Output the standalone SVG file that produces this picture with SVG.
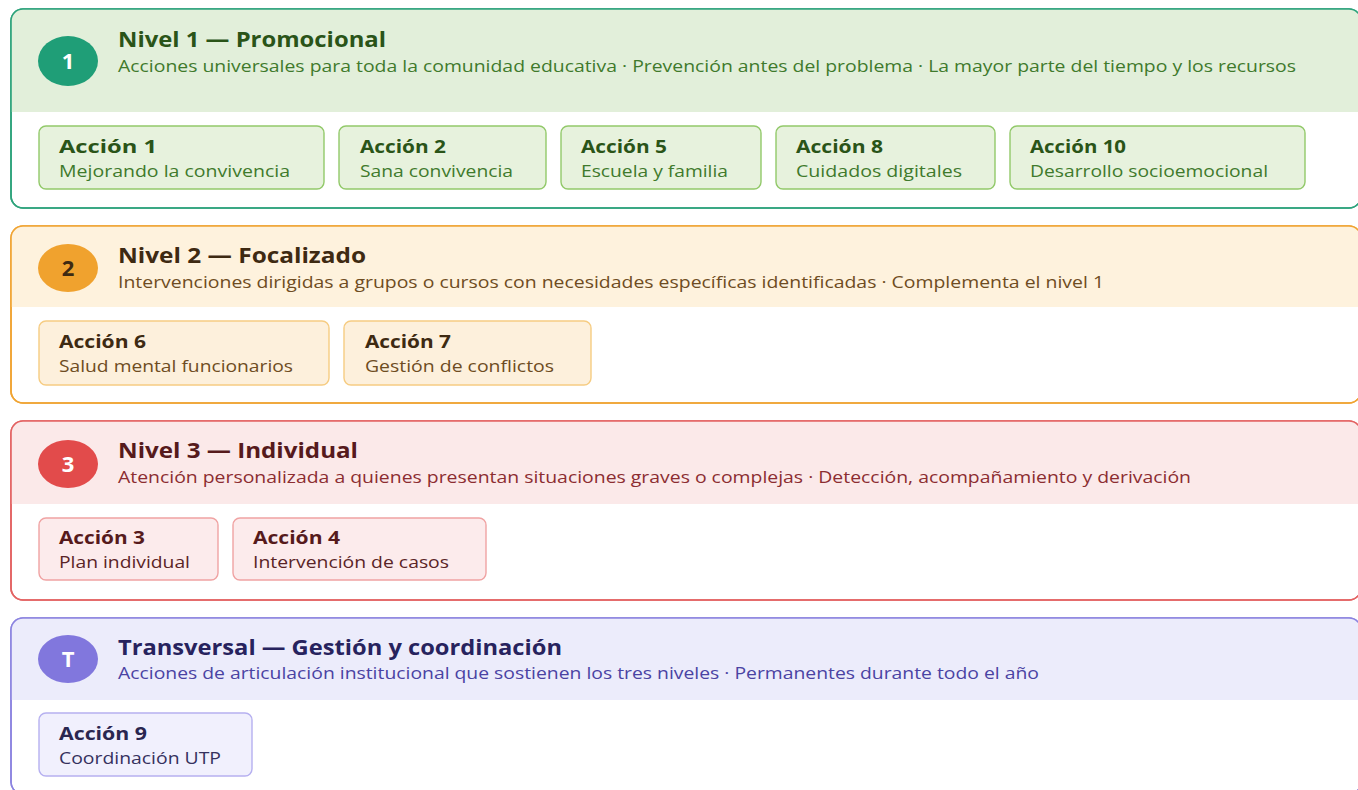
<svg xmlns="http://www.w3.org/2000/svg" width="1358" height="790" viewBox="0 0 1358 790">
<style>
text{font-family:"Open Sans","Noto Sans","Liberation Sans",sans-serif}
.t{font-size:20.5px;font-weight:700}
.s{font-size:16.5px}
.ct{font-size:18px;font-weight:700}
.cs{font-size:17px}
.n{font-size:22px;font-weight:700;text-anchor:middle}
.g .panel{fill:#fff;stroke:#2ea37c;stroke-width:1.6}
.g .head{fill:#e2efda}
.g .card{fill:#e7f2dd;stroke:#92c96a;stroke-width:1.4}
.g .t,.g .ct{fill:#2a5418}
.g .s,.g .cs{fill:#3f7a2c}
.o .panel{fill:#fff;stroke:#f0a433;stroke-width:1.6}
.o .head{fill:#fef2dd}
.o .card{fill:#fdf0dc;stroke:#f6cc82;stroke-width:1.4}
.o .t,.o .ct{fill:#3e2a12}
.o .s,.o .cs{fill:#6e4c22}
.r .panel{fill:#fff;stroke:#e36363;stroke-width:1.6}
.r .head{fill:#fbe9e9}
.r .card{fill:#fcebec;stroke:#f0a3a3;stroke-width:1.4}
.r .t,.r .ct{fill:#561a1c}
.r .s{fill:#8c2d31}
.r .cs{fill:#5a2426}
.p .panel{fill:#fff;stroke:#8c84e0;stroke-width:1.6}
.p .head{fill:#ececfb}
.p .card{fill:#f1f0fd;stroke:#b6b0f0;stroke-width:1.4}
.p .t{fill:#27235e}
.p .ct{fill:#2a2650}
.p .s{fill:#4a43a3}
.p .cs{fill:#35315e}
</style>
<rect width="1358" height="790" fill="#fff"/>
<defs>
<clipPath id="c1"><rect x="11" y="9" width="1350" height="199" rx="12"/></clipPath>
<clipPath id="c2"><rect x="11" y="226" width="1350" height="177" rx="12"/></clipPath>
<clipPath id="c3"><rect x="11" y="421" width="1350" height="179" rx="12"/></clipPath>
<clipPath id="c4"><rect x="11" y="618" width="1350" height="176" rx="12"/></clipPath>
</defs>

<g id="nivel1" class="g">
<rect class="panel" x="11" y="9" width="1350" height="199" rx="12"/>
<rect class="head" x="11" y="9" width="1350" height="103" clip-path="url(#c1)"/>
<rect x="11" y="9" width="1350" height="199" rx="12" fill="none" stroke="#2ea37c" stroke-width="1.6"/>
<ellipse cx="68" cy="61" rx="30" ry="25" fill="#1f9e77"/>
<text class="n" x="68" y="69" fill="#fff">1</text>
<text class="t" x="118" y="47" textLength="268" lengthAdjust="spacingAndGlyphs">Nivel 1 — Promocional</text>
<text class="s" x="118" y="72" textLength="1178" lengthAdjust="spacingAndGlyphs">Acciones universales para toda la comunidad educativa · Prevención antes del problema · La mayor parte del tiempo y los recursos</text>
<g id="a1"><rect class="card" x="39" y="126" width="285" height="63" rx="7"/><text class="ct" x="59" y="153" textLength="98" lengthAdjust="spacingAndGlyphs">Acción 1</text><text class="cs" x="59" y="177" textLength="231" lengthAdjust="spacingAndGlyphs">Mejorando la convivencia</text></g>
<g id="a2"><rect class="card" x="339" y="126" width="207" height="63" rx="7"/><text class="ct" x="360" y="153" textLength="86" lengthAdjust="spacingAndGlyphs">Acción 2</text><text class="cs" x="360" y="177" textLength="153" lengthAdjust="spacingAndGlyphs">Sana convivencia</text></g>
<g id="a5"><rect class="card" x="561" y="126" width="200" height="63" rx="7"/><text class="ct" x="581" y="153" textLength="86" lengthAdjust="spacingAndGlyphs">Acción 5</text><text class="cs" x="581" y="177" textLength="147" lengthAdjust="spacingAndGlyphs">Escuela y familia</text></g>
<g id="a8"><rect class="card" x="776" y="126" width="219" height="63" rx="7"/><text class="ct" x="796" y="153" textLength="87" lengthAdjust="spacingAndGlyphs">Acción 8</text><text class="cs" x="796" y="177" textLength="166" lengthAdjust="spacingAndGlyphs">Cuidados digitales</text></g>
<g id="a10"><rect class="card" x="1010" y="126" width="295" height="63" rx="7"/><text class="ct" x="1030" y="153" textLength="96" lengthAdjust="spacingAndGlyphs">Acción 10</text><text class="cs" x="1030" y="177" textLength="238" lengthAdjust="spacingAndGlyphs">Desarrollo socioemocional</text></g>
</g>

<g id="nivel2" class="o">
<rect class="panel" x="11" y="226" width="1350" height="177" rx="12"/>
<rect class="head" x="11" y="226" width="1350" height="81" clip-path="url(#c2)"/>
<rect x="11" y="226" width="1350" height="177" rx="12" fill="none" stroke="#f0a433" stroke-width="1.6"/>
<ellipse cx="68" cy="268" rx="30" ry="24" fill="#f0a22e"/>
<text class="n" x="68" y="276" fill="#3e2a12">2</text>
<text class="t" x="118" y="263" textLength="248" lengthAdjust="spacingAndGlyphs">Nivel 2 — Focalizado</text>
<text class="s" x="118" y="288" textLength="986" lengthAdjust="spacingAndGlyphs">Intervenciones dirigidas a grupos o cursos con necesidades específicas identificadas · Complementa el nivel 1</text>
<g id="a6"><rect class="card" x="39" y="321" width="290" height="64" rx="7"/><text class="ct" x="59" y="348" textLength="87" lengthAdjust="spacingAndGlyphs">Acción 6</text><text class="cs" x="59" y="372" textLength="234" lengthAdjust="spacingAndGlyphs">Salud mental funcionarios</text></g>
<g id="a7"><rect class="card" x="344" y="321" width="247" height="64" rx="7"/><text class="ct" x="365" y="348" textLength="86" lengthAdjust="spacingAndGlyphs">Acción 7</text><text class="cs" x="365" y="372" textLength="189" lengthAdjust="spacingAndGlyphs">Gestión de conflictos</text></g>
</g>

<g id="nivel3" class="r">
<rect class="panel" x="11" y="421" width="1350" height="179" rx="12"/>
<rect class="head" x="11" y="421" width="1350" height="83" clip-path="url(#c3)"/>
<rect x="11" y="421" width="1350" height="179" rx="12" fill="none" stroke="#e36363" stroke-width="1.6"/>
<ellipse cx="68" cy="464" rx="30" ry="24" fill="#e24b4b"/>
<text class="n" x="68" y="472" fill="#fff">3</text>
<text class="t" x="118" y="458" textLength="240" lengthAdjust="spacingAndGlyphs">Nivel 3 — Individual</text>
<text class="s" x="118" y="483" textLength="1073" lengthAdjust="spacingAndGlyphs">Atención personalizada a quienes presentan situaciones graves o complejas · Detección, acompañamiento y derivación</text>
<g id="a3"><rect class="card" x="39" y="518" width="179" height="62" rx="7"/><text class="ct" x="59" y="544" textLength="86" lengthAdjust="spacingAndGlyphs">Acción 3</text><text class="cs" x="59" y="568" textLength="131" lengthAdjust="spacingAndGlyphs">Plan individual</text></g>
<g id="a4"><rect class="card" x="233" y="518" width="253" height="62" rx="7"/><text class="ct" x="253" y="544" textLength="87" lengthAdjust="spacingAndGlyphs">Acción 4</text><text class="cs" x="253" y="568" textLength="196" lengthAdjust="spacingAndGlyphs">Intervención de casos</text></g>
</g>

<g id="transversal" class="p">
<rect class="panel" x="11" y="618" width="1350" height="176" rx="12"/>
<rect class="head" x="11" y="618" width="1350" height="82" clip-path="url(#c4)"/>
<rect x="11" y="618" width="1350" height="176" rx="12" fill="none" stroke="#8c84e0" stroke-width="1.6"/>
<ellipse cx="68" cy="659" rx="30" ry="24" fill="#8177dd"/>
<text class="n" x="68" y="667" fill="#fff">T</text>
<text class="t" x="118" y="655" textLength="444" lengthAdjust="spacingAndGlyphs">Transversal — Gestión y coordinación</text>
<text class="s" x="118" y="679" textLength="921" lengthAdjust="spacingAndGlyphs">Acciones de articulación institucional que sostienen los tres niveles · Permanentes durante todo el año</text>
<g id="a9"><rect class="card" x="39" y="713" width="213" height="63" rx="7"/><text class="ct" x="59" y="740" textLength="88" lengthAdjust="spacingAndGlyphs">Acción 9</text><text class="cs" x="59" y="764" textLength="162" lengthAdjust="spacingAndGlyphs">Coordinación UTP</text></g>
</g>

<g id="connectors"></g>
</svg>
